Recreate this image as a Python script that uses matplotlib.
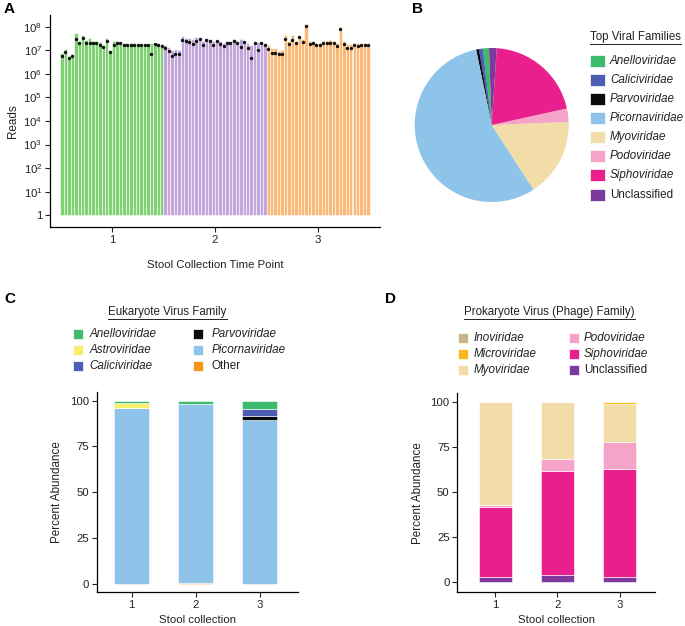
import numpy as np
import matplotlib
matplotlib.use("Agg")
import matplotlib.pyplot as plt
from matplotlib.patches import Rectangle
from matplotlib.lines import Line2D

plt.rcParams['font.family'] = ['Liberation Sans', 'DejaVu Sans']
plt.rcParams['mathtext.fontset'] = 'custom'
plt.rcParams['mathtext.rm'] = 'Liberation Sans'
plt.rcParams['mathtext.it'] = 'Liberation Sans:italic'
plt.rcParams['axes.linewidth'] = 0.9

# ---------------- data ----------------
# panel A: reads per sample (millions), bars = total, dots = filtered
timepoints = [1, 2, 3]
tp_colors = ['#7fd173', '#c3a7dc', '#fbb877']
total_1 = [7.5, 11, 6, 7, 55, 25, 47, 27, 35, 26, 26, 22, 17, 32, 10,
           25, 24, 22, 21, 20, 20, 20, 19, 19, 19, 19, 20, 20, 20, 18]
kept_1 = [5.5, 8.5, 4.9, 5.9, 29, 20, 34, 20, 21, 21, 21, 17.5, 14, 26, 8.5,
          17, 21, 20, 17, 17, 17.5, 17, 16.5, 16.5, 16.5, 16.5, 6.8, 19, 17, 16]
total_2 = [17, 14, 10, 11, 10.5, 42, 33, 33, 30, 36, 33, 24, 33, 30, 24,
           28, 25, 21, 24, 24, 29, 24, 30, 25, 21, 17, 23, 22, 22, 20]
kept_2 = [12.6, 9.2, 5.7, 7.2, 6.7, 28, 24, 22, 18, 24, 29, 17, 27, 25, 17.5,
          24, 19, 15, 20, 20, 24, 20, 14.4, 22.8, 13, 4.7, 20, 10, 20, 16.4]
total_3 = [17, 12, 12, 9, 10, 45, 24, 43, 26, 42, 30, 126, 24, 24, 21,
           21, 24, 24, 27, 24, 20, 100, 24, 19, 19, 20, 20, 19, 20, 19]
kept_3 = [11.8, 7.9, 7.4, 6.9, 6.9, 31.6, 18.7, 28.7, 20, 36, 22.8, 103, 18.7, 21.3, 17.5,
          17.5, 20, 20, 20.5, 20.5, 15.3, 82, 18.7, 12.6, 12.6, 16.4, 15.3, 16.4, 16.4, 16.4]

# panel B: top viral families (percent of reads)
top_families = ['Anelloviridae', 'Caliciviridae', 'Parvoviridae', 'Picornaviridae',
                'Myoviridae', 'Podoviridae', 'Siphoviridae', 'Unclassified']
top_share = [1.3, 0.8, 0.6, 55.9, 16.5, 2.8, 20.5, 1.6]
top_colors = ['#3dba6b', '#4d5db6', '#0b0b0b', '#8ec4ea',
              '#f2dca8', '#f5a3c8', '#ea1f8e', '#7d3a9c']

# panel C: eukaryote virus families (percent abundance per collection)
euk_families = ['Anelloviridae', 'Astroviridae', 'Caliciviridae',
                'Parvoviridae', 'Picornaviridae', 'Other']
euk_colors = ['#3dba6b', '#f7f06e', '#4d5db6', '#0b0b0b', '#8ec4ea', '#f7941d']
euk_anello = [1.1, 1.5, 4.6]
euk_astro = [2.7, 0, 0]
euk_calici = [0, 0, 3.6]
euk_parvo = [0, 0, 2.4]
euk_picorna = [96.2, 98.3, 89.4]
euk_other = [0, 0.2, 0]

# panel D: phage families
phage_families = ['Inoviridae', 'Microviridae', 'Myoviridae',
                  'Podoviridae', 'Siphoviridae', 'Unclassified']
phage_colors = ['#c8b68a', '#f9b81f', '#f2dca8', '#f5a3c8', '#ea1f8e', '#7d3a9c']
phage_ino = [0, 0, 0.1]
phage_micro = [0, 0, 1.0]
phage_myo = [57.3, 31.5, 21.2]
phage_podo = [1.2, 7.1, 15.2]
phage_sipho = [38.7, 57.2, 59.4]
phage_uncl = [2.8, 4.2, 3.1]

# ---------------- layout helpers (pixel coords, top-left origin) ----------------
W, H = 685, 626
fig = plt.figure(figsize=(W / 100, H / 100), dpi=100)


def fx(px):
    return px / W


def fy(py):
    return 1 - py / H


def axes_px(left, top, right, bottom):
    return fig.add_axes([fx(left), fy(bottom), (right - left) / W, (bottom - top) / H])


def draw_legend(names, colors, xp, xt, rows, pw, ph, fs=8.4):
    for name, col, x_p, x_t, y in zip(names, colors, xp, xt, rows):
        fig.add_artist(Rectangle((fx(x_p), fy(y + ph / 2)), pw / W, ph / H,
                                 transform=fig.transFigure, facecolor=col,
                                 edgecolor='white', linewidth=0.5))
        style = 'normal' if name in ('Unclassified', 'Other') else 'italic'
        fig.text(fx(x_t), fy(y), name, fontsize=fs, style=style,
                 va='center', ha='left', color='#222222')


underlined = []


def title_text(x, y, s, ha='center'):
    t = fig.text(fx(x), fy(y), s, fontsize=8.3, ha=ha, va='center', color='#222222')
    underlined.append(t)


def style_axes(ax, fs=8.2):
    for side in ('top', 'right'):
        ax.spines[side].set_visible(False)
    ax.tick_params(labelsize=fs, length=3.5, width=0.8, colors='#222222', pad=2)


# ---------------- panel A ----------------
axA = axes_px(50, 15, 380, 227)
n = len(total_1)
w = 1.0 / n
offs = (np.arange(n) + 0.5) * w - 0.5
for tp, col, tot, kept in zip(timepoints, tp_colors,
                              [total_1, total_2, total_3], [kept_1, kept_2, kept_3]):
    xs = tp + offs
    tot = np.array(tot) * 1e6
    axA.bar(xs, tot - 1, bottom=1, width=w, color=col, edgecolor='white', linewidth=0.4)
    axA.scatter(xs, np.array(kept) * 1e6, s=6, color='#111111', zorder=3, linewidths=0)
axA.set_yscale('log')
axA.set_ylim(10 ** -0.5, 10 ** 8.5)
axA.set_xlim(0.4, 3.6)
axA.set_yticks([10 ** k for k in range(9)])
axA.set_yticklabels(['1'] + [r'$10^{%d}$' % k for k in range(1, 9)])
axA.yaxis.set_minor_locator(matplotlib.ticker.NullLocator())
axA.set_xticks(timepoints)
axA.set_xticklabels([str(t) for t in timepoints])
style_axes(axA)
axA.set_ylabel('Reads', fontsize=8.4, color='#222222', labelpad=3)
axA.set_xlabel('Stool Collection Time Point', fontsize=8.2, color='#222222', labelpad=11)

# ---------------- panel B ----------------
axB = axes_px(491.7 - 77, 125 - 77, 491.7 + 77, 125 + 77)
axB.pie(top_share, colors=top_colors, startangle=92, counterclock=True,
        wedgeprops=dict(linewidth=0))
axB.set_xlim(-1, 1)
axB.set_ylim(-1, 1)
axB.set_aspect('equal')
title_text(590, 37, 'Top Viral Families', ha='left')
rowsB = [61, 80, 99, 118, 137, 156, 175, 195]
draw_legend(top_families, top_colors, [590] * 8, [610] * 8, rowsB, 14.5, 12.5)

# ---------------- panel C ----------------
axC = axes_px(97, 392, 298, 592)
xC = np.array(timepoints)
bottom = np.zeros(3)
for vals, col in zip([euk_other, euk_picorna, euk_parvo, euk_calici, euk_astro, euk_anello],
                     euk_colors[::-1]):
    axC.bar(xC, vals, bottom=bottom, width=0.55, color=col, edgecolor='white', linewidth=0.4)
    bottom += np.array(vals)
axC.set_xlim(0.46, 3.6)
axC.set_ylim(-4.6, 104.8)
axC.set_yticks([0, 25, 50, 75, 100])
axC.set_xticks(timepoints)
style_axes(axC)
axC.set_ylabel('Percent Abundance', fontsize=8.4, color='#222222', labelpad=5)
axC.set_xlabel('Stool collection', fontsize=8.2, color='#222222', labelpad=4)
title_text(167.5, 312, 'Eukaryote Virus Family')
draw_legend(euk_families, euk_colors,
            [72.5] * 3 + [193.5] * 3, [89.5] * 3 + [211.5] * 3,
            [334, 350, 366] * 2, 10, 9.5)

# ---------------- panel D ----------------
axD = axes_px(457.3, 393.3, 655, 592.3)
bottom = np.zeros(3)
for vals, col in zip([phage_uncl, phage_sipho, phage_podo, phage_myo, phage_micro, phage_ino],
                     phage_colors[::-1]):
    axD.bar(xC, vals, bottom=bottom, width=0.535, color=col, edgecolor='white', linewidth=0.4)
    bottom += np.array(vals)
axD.set_xlim(0.39, 3.57)
axD.set_ylim(-5.5, 104.6)
axD.set_yticks([0, 25, 50, 75, 100])
axD.set_xticks(timepoints)
style_axes(axD)
axD.set_ylabel('Percent Abundance', fontsize=8.4, color='#222222', labelpad=5)
axD.set_xlabel('Stool collection', fontsize=8.2, color='#222222', labelpad=4)
title_text(549.7, 312, 'Prokaryote Virus (Phage) Family)')
draw_legend(phage_families, phage_colors,
            [457.5] * 3 + [568.5] * 3, [473.5] * 3 + [584] * 3,
            [338, 354, 370] * 2, 10.5, 9.5)

# ---------------- panel letters ----------------
for lab, x, y in [('A', 4, 9), ('B', 412, 9), ('C', 4, 299), ('D', 385, 299)]:
    fig.text(fx(x), fy(y), lab, fontsize=11, fontweight='bold', va='center', ha='left')

# underline the legend titles
fig.canvas.draw()
r = fig.canvas.get_renderer()
for t in underlined:
    bb = t.get_window_extent(renderer=r)
    y = (bb.y0 - 0.5) / H
    fig.add_artist(Line2D([bb.x0 / W, bb.x1 / W], [y, y], transform=fig.transFigure,
                          color='#222222', linewidth=0.7))

fig.savefig('out.png', dpi=100)
